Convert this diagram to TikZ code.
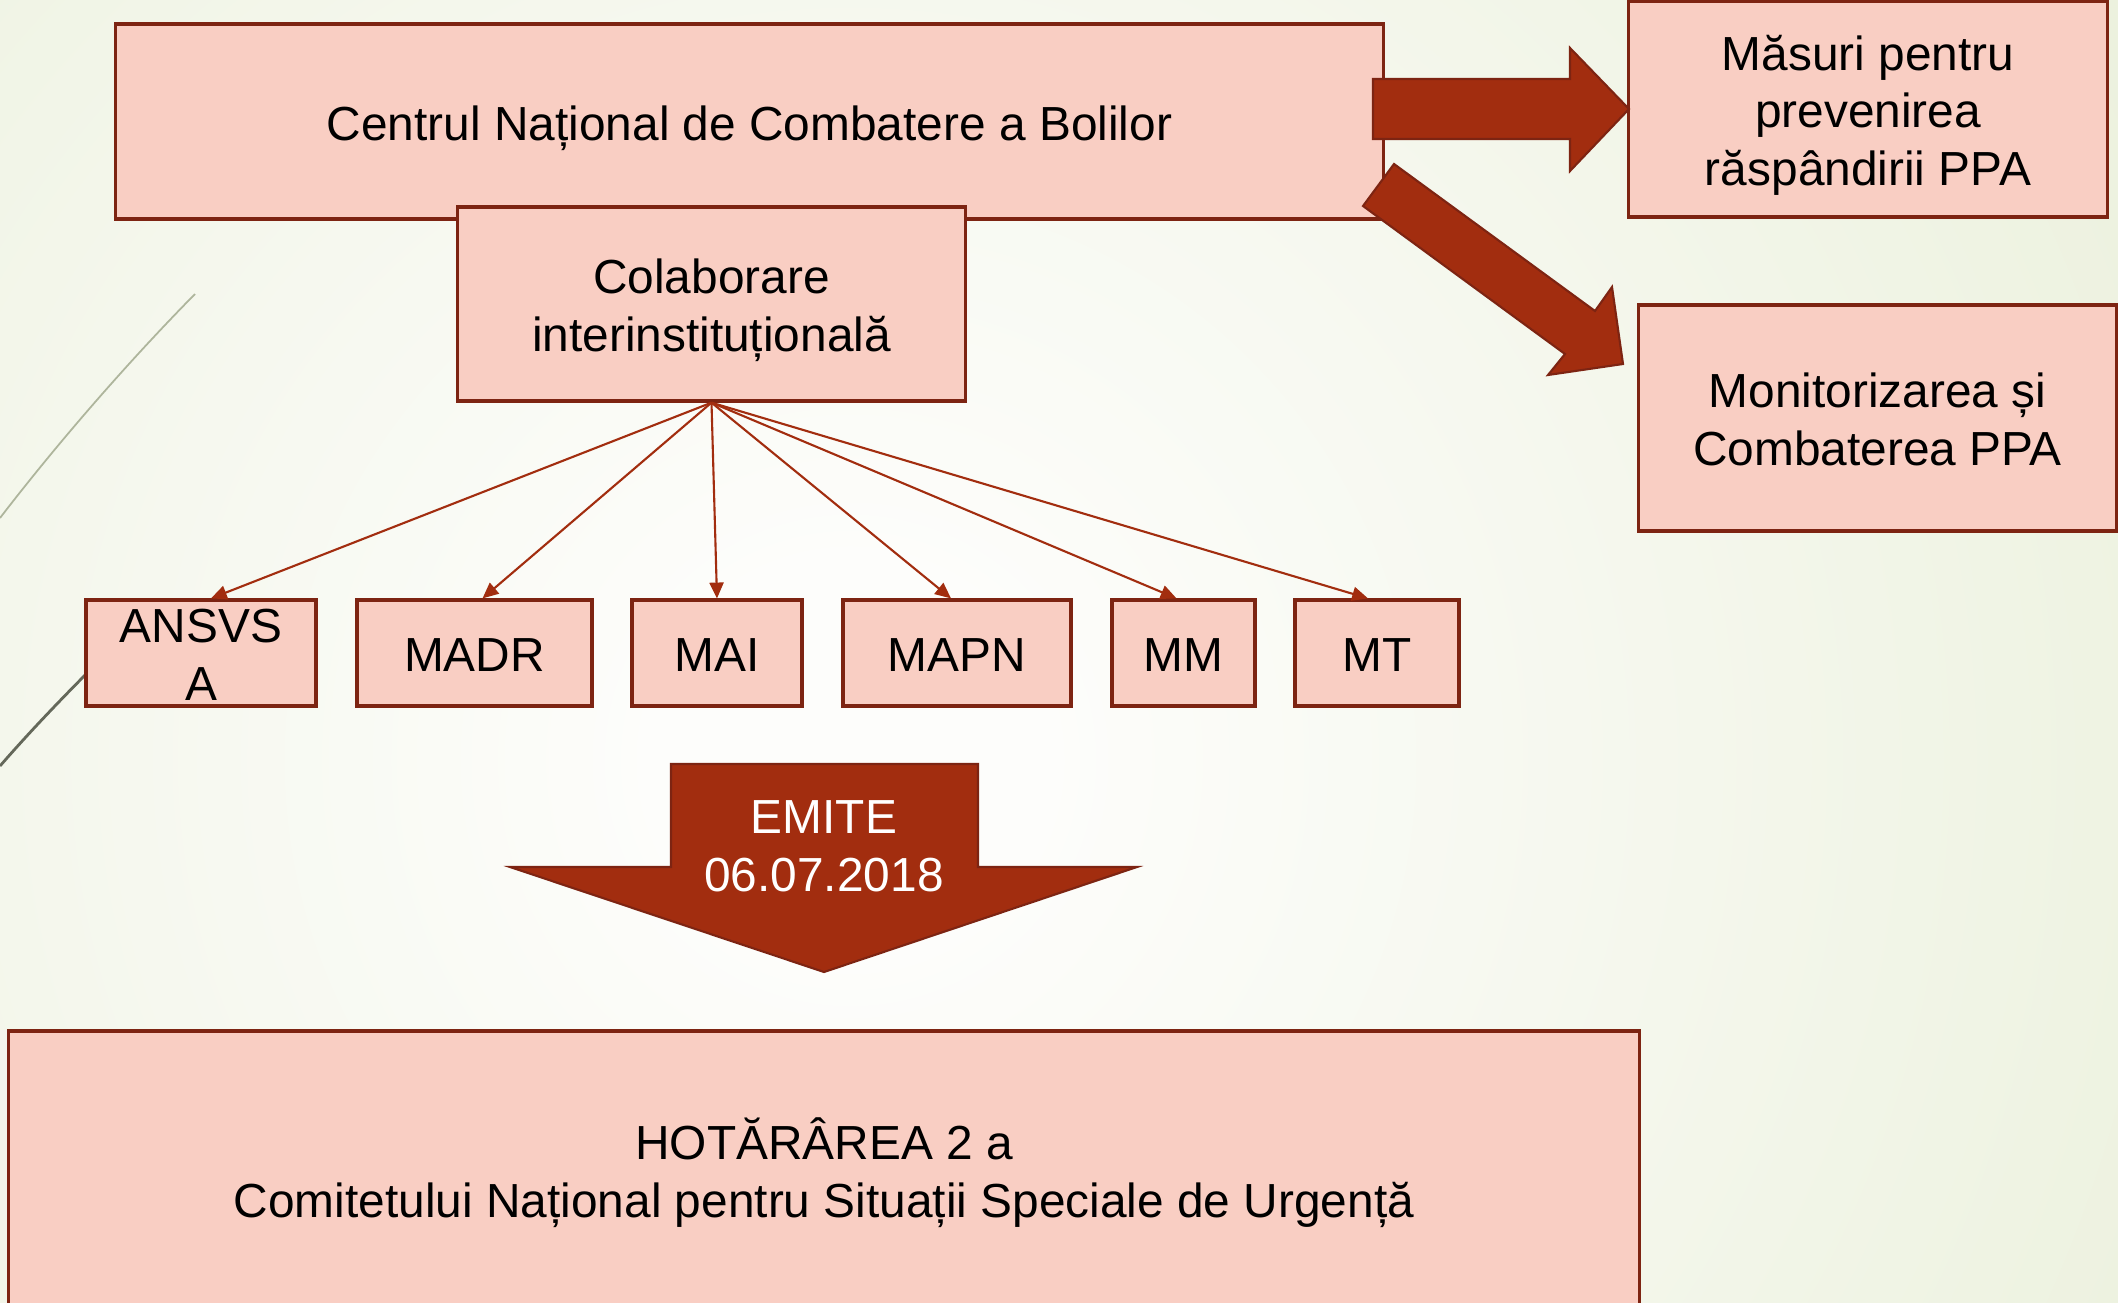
\documentclass[tikz,border=0pt]{standalone}
\usepackage{fontspec}
\setmainfont{Liberation Sans}
\usetikzlibrary{arrows.meta}

\definecolor{boxfill}{HTML}{F9CEC3}
\definecolor{boxline}{HTML}{7D2412}
\definecolor{arrowred}{HTML}{A22D0F}
\definecolor{bggreen}{HTML}{DFE8C8}
\definecolor{bgwhite}{HTML}{FDFDFB}

\pgfdeclareradialshading{slidebg}{\pgfpoint{0bp}{0bp}}{color(0bp)=(bgwhite); color(3bp)=(bgwhite); color(38bp)=(bggreen); color(50bp)=(bggreen)}

% struts so that every text sits like in the slide
\newcommand{\ts}{\rule{0pt}{13.7pt}}
\newcommand{\te}{\rule[-3pt]{0pt}{3pt}}

\tikzset{
    box/.style={draw=boxline, fill=boxfill, line width=0.9pt, align=center, inner sep=0pt},
    link/.style={draw=arrowred, line width=0.6pt, -{Triangle[length=4.5pt,width=4pt]}},
    bigarrow/.style={fill=arrowred, draw=boxline, line width=0.6pt}
}

\begin{document}
\begin{tikzpicture}[x=0.01cm, y=-0.01cm, font=\fontsize{13.6}{16.4}\selectfont]

    % Background
    \useasboundingbox (0,0) rectangle (2118,1303);
    \begin{scope}
        \clip (0,0) rectangle (2118,1303);
        \fill[bggreen] (0,0) rectangle (2118,1303);
        \shade[shading=slidebg] (850,760) circle (16cm);
        \draw[black!22!bggreen, line width=0.5pt] (0,518) .. controls (60,440) and (130,360) .. (195,294);
        \draw[black!55!bggreen, line width=0.8pt] (0,766) .. controls (40,720) and (80,680) .. (120,640);
    \end{scope}

    % Top boxes
    \node[box, minimum width=12.67cm, minimum height=1.95cm] (centrul) at (749.5,121.5) {\ts Centrul Național de Combatere a Bolilor\te};
    \node[box, minimum width=5.07cm, minimum height=1.94cm] (colab) at (711.5,304) {\ts Colaborare\\interinstituțională\te};
    \node[box, minimum width=4.78cm, minimum height=2.16cm] (masuri) at (1868,109) {\ts Măsuri pentru\\prevenirea\\răspândirii PPA\te};
    \node[box, minimum width=4.77cm, minimum height=2.26cm] (monit) at (1877.5,418) {\ts Monitorizarea și\\Combaterea PPA\te};

    % Block arrows to the right
    \draw[bigarrow] (1373,79) -- (1570,79) -- (1570,48) -- (1629,109) -- (1570,171) -- (1570,139) -- (1373,139) -- cycle;
    \draw[bigarrow] (1394,164) -- (1595,311) -- (1612,287) -- (1623,364) -- (1548,375) -- (1565,354) -- (1363,206) -- cycle;

    % Institutions
    \foreach \name/\x/\w/\label in {ansvsa/201/2.30/{ANSVS\\A}, madr/474.5/2.35/MADR, mai/717/1.70/MAI, mapn/957/2.28/MAPN, mm/1183.5/1.43/MM, mt/1377/1.64/MT}
        \node[box, inner ysep=-3pt, minimum width=\w cm, minimum height=1.06cm] (\name) at (\x,653) {\ts\label\te};

    \foreach \name/\dx in {ansvsa/10, madr/8, mai/0, mapn/-6, mm/-7, mt/-9}
        \draw[link] (colab.south) -- ([xshift=\dx*0.01cm]\name.north);

    % Emite arrow
    \draw[bigarrow] (671,764) -- (978,764) -- (978,867) -- (1137,867) -- (824,972) -- (510,867) -- (671,867) -- cycle;
    \node[text=white, align=center] (emite) at (824,844) {\ts EMITE\\06.07.2018\te};

    % Hotarare
    \node[box, minimum width=16.30cm, minimum height=2.78cm] (hotarare) at (824,1170) {\ts HOTĂRÂREA 2 a\\Comitetului Național pentru Situații Speciale de Urgență\te};

\end{tikzpicture}
\end{document}
